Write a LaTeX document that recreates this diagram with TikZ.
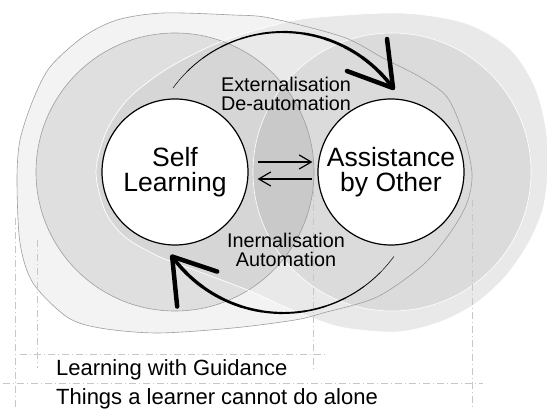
\documentclass[tikz,border=0pt]{standalone}
\usepackage{fontspec}
\setmainfont{Liberation Sans}
\usetikzlibrary{arrows.meta}
\definecolor{outerL}{gray}{0.953}
\definecolor{outerR}{gray}{0.914}
\definecolor{thinline}{gray}{0.62}
\definecolor{guide}{gray}{0.78}
\begin{document}
\begin{tikzpicture}[x=1pt,y=1pt,
  guideline/.style={draw=guide, line width=0.6pt, dash pattern=on 7pt off 3pt on 1pt off 3pt},
  bigcircle/.style={circle, draw=black, line width=1.2pt, fill=white, minimum size=146pt, inner sep=0pt, align=center, font=\fontsize{26.5}{25}\selectfont},
  midlabel/.style={align=center, inner sep=0pt, anchor=north, font=\fontsize{19.8}{18.8}\selectfont},
  bottomlabel/.style={inner sep=0pt, anchor=base west, font=\fontsize{22}{24}\selectfont},
  smallarrow/.style={line width=1.2pt, -{Straight Barb[length=12pt,width=14pt]}},
  headstroke/.style={line width=4.5pt, line cap=round, line join=round},
]
\useasboundingbox (0,0) rectangle (547,409);
% outer shapes
\path[save path=\leftouter] plot[smooth cycle] coordinates {
 (17,229) (20,269) (33,309) (50,342) (83,372) (117,389) (163,396) (233,394) (270,391)
 (343,372) (383,351) (420,332) (447,312) (463,276) (472,236) (467,206) (450,176)
 (423,144) (377,112) (323,96) (295,89) (233,81) (157,76) (100,81) (67,92) (33,126) (20,166)};
\path[save path=\rightouter] plot[smooth cycle] coordinates {
 (96,238) (107,279) (130,312) (170,342) (220,367) (267,382) (310,391) (400,396)
 (465,386) (510,360) (535,322) (546,280) (548,240) (543,200) (528,165) (505,132)
 (475,105) (440,87) (397,77) (340,82) (290,100) (250,118) (200,137) (160,152) (125,172) (105,198)};
\path[use path=\leftouter, fill=outerL];
\path[use path=\rightouter, fill=outerR];
% middle circles
\fill[black, fill opacity=0.08] (175,237) circle[radius=139];
\fill[black, fill opacity=0.06] (392,237) circle[radius=139];
\draw[white, line width=0.6pt] (392,237) circle[radius=139];
\draw[thinline, line width=0.6pt] (175,237) circle[radius=139];
\path[use path=\rightouter, draw=white, line width=0.7pt];
\path[use path=\leftouter, draw=thinline, line width=0.6pt];
% guide lines
\draw[guideline] (15,191) -- (15,0);
\draw[guideline] (37,169) -- (37,41);
\draw[guideline] (313,219) -- (313,39);
\draw[guideline] (472,209) -- (472,0);
\draw[guideline] (20,55) -- (327,55);
\draw[guideline] (3,26) -- (483,26);
% main nodes
\node[bigcircle] (self) at (175,237) {Self\\Learning};
\node[bigcircle] (assist) at (391,237) {Assistance\\by Other};
% small arrows
\draw[smallarrow] ([shift={(9pt,10pt)}]self.east) -- ([shift={(-5pt,10pt)}]assist.west);
\draw[smallarrow] ([shift={(-5pt,-7pt)}]assist.west) -- ([shift={(9pt,-7pt)}]self.east);
% big arcs
\coordinate (topc) at (283,241);
\coordinate (botc) at (283,233);
\foreach \k in {0,...,11} {
  \pgfmathsetmacro\a{144-9*\k}
  \pgfmathsetmacro\b{-36-9*\k}
  \pgfmathsetmacro\w{0.5+0.28*\k}
  \draw[line width=\w pt, line cap=round] ([shift={(\a:136)}]topc) arc[start angle=\a, delta angle=-9, radius=136];
  \draw[line width=\w pt, line cap=round] ([shift={(\b:137)}]botc) arc[start angle=\b, delta angle=-9, radius=137];
}
\coordinate (toptip) at ([shift={(36:136)}]topc);
\coordinate (bottip) at ([shift={(-144:137)}]botc);
\draw[headstroke] ([shift={(-6pt,49pt)}]toptip) -- (toptip) -- ([shift={(-46pt,17pt)}]toptip);
\draw[headstroke] ([shift={(45pt,-15pt)}]bottip) -- (bottip) -- ([shift={(5pt,-50pt)}]bottip);
% labels
\node[midlabel] (ext) at (286,332) {Externalisation\\De-automation};
\node[midlabel] (int) at (286,176) {Inernalisation\\Automation};
\node[bottomlabel] (lwg) at (56,33) {Learning with Guidance};
\node[bottomlabel] (tal) at (56,4) {Things a learner cannot do alone};
\end{tikzpicture}
\end{document}
